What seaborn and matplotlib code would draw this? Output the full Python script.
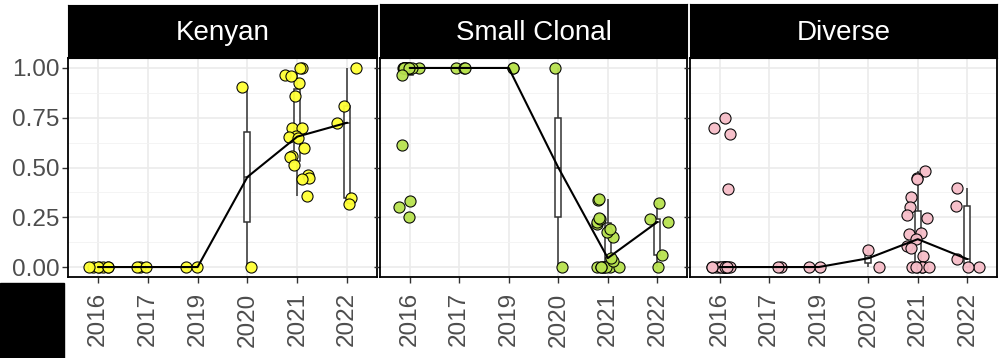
import matplotlib
matplotlib.use("Agg")
import matplotlib.pyplot as plt
import numpy as np
import pandas as pd
import seaborn as sns
from matplotlib.patches import Rectangle
from matplotlib.ticker import MultipleLocator

years = ["2016", "2017", "2019", "2020", "2021", "2022"]
groups = ["Kenyan", "Small Clonal", "Diverse"]
colors = ["#FFFF33", "#B8E24F", "#F6BDC8"]
ytick_labels = ["0.00", "0.25", "0.50", "0.75", "1.00"]

# values, one list per panel and year
kenyan_2016 = [0, 0, 0, 0, 0, 0, 0]
kenyan_2017 = [0, 0, 0]
kenyan_2019 = [0, 0]
kenyan_2020 = [0, 0.905]
kenyan_2021 = [1.0, 1.0, 0.965, 0.925, 0.96, 0.86, 0.70, 0.70, 0.66, 0.655,
               0.65, 0.60, 0.56, 0.555, 0.515, 0.46, 0.445, 0.44, 0.355]
kenyan_2022 = [1.0, 0.81, 0.725, 0.345, 0.315]

clonal_2016 = [1, 1, 1, 1, 1, 1, 1, 1, 1, 1, 1, 1, 0.965, 0.615, 0.33, 0.30, 0.25]
clonal_2017 = [1, 1, 1]
clonal_2019 = [1, 1]
clonal_2020 = [1, 0]
clonal_2021 = [0, 0, 0, 0, 0, 0, 0, 0, 0.03, 0.045, 0.149, 0.178, 0.19,
               0.215, 0.226, 0.24, 0.248, 0.335, 0.344]
clonal_2022 = [0.32, 0.24, 0.226, 0.058, 0]

diverse_2016 = [0.75, 0.70, 0.67, 0.39, 0, 0, 0, 0, 0, 0, 0, 0, 0, 0, 0, 0, 0]
diverse_2017 = [0, 0]
diverse_2019 = [0, 0]
diverse_2020 = [0.088, 0]
diverse_2021 = [0.48, 0.445, 0.44, 0.35, 0.30, 0.26, 0.245, 0.17, 0.165, 0.14,
                0.105, 0.095, 0.055, 0, 0, 0, 0, 0, 0]
diverse_2022 = [0.395, 0.307, 0.04, 0, 0]

panel_lists = {
    "Kenyan": [kenyan_2016, kenyan_2017, kenyan_2019, kenyan_2020, kenyan_2021, kenyan_2022],
    "Small Clonal": [clonal_2016, clonal_2017, clonal_2019, clonal_2020, clonal_2021, clonal_2022],
    "Diverse": [diverse_2016, diverse_2017, diverse_2019, diverse_2020, diverse_2021, diverse_2022],
}
rows = []
for g in groups:
    for yr, vals in zip(years, panel_lists[g]):
        for v in vals:
            rows.append({"group": g, "year": yr, "value": v})
df = pd.DataFrame(rows)

sns.set_style("white")
plt.rcParams["font.family"] = ["Liberation Sans", "DejaVu Sans"]
np.random.seed(3)

W, H = 1000, 358
fig = plt.figure(figsize=(W / 100, H / 100), dpi=100)

# pixel boxes: (left, right) for each panel, shared top/bottom
panel_x = [(68, 377), (380, 687), (690, 997)]
strip_top = [5, 4, 4]
p_top, p_bot = 58, 277

for i, g in enumerate(groups):
    x0, x1 = panel_x[i]
    ax = fig.add_axes([x0 / W, (H - p_bot) / H, (x1 - x0) / W, (p_bot - p_top) / H])
    sub = df[df["group"] == g]

    sns.boxplot(data=sub, x="year", y="value", order=years, width=0.12,
                showfliers=False, showcaps=False, color="white",
                linecolor="#333333", linewidth=1.1, ax=ax, zorder=2)
    sns.stripplot(data=sub, x="year", y="value", order=years, jitter=0.25,
                  color=colors[i], edgecolor="black", linewidth=0.8, size=8,
                  alpha=0.95, ax=ax, zorder=3)
    sns.pointplot(data=sub, x="year", y="value", order=years, estimator="median",
                  errorbar=None, color="black", marker="", linewidth=1.5,
                  ax=ax, zorder=4)

    ax.set_xlim(-0.6, 5.6)
    ax.set_ylim(-0.05, 1.05)
    ax.set_xlabel("")
    ax.set_ylabel("")
    ax.set_yticks([0, 0.25, 0.5, 0.75, 1.0])
    ax.yaxis.set_minor_locator(MultipleLocator(0.125))
    ax.set_axisbelow(True)
    ax.grid(which="major", color="#EBEBEB", linewidth=1.2)
    ax.grid(which="minor", axis="y", color="#F2F2F2", linewidth=0.6)
    for s in ax.spines.values():
        s.set_color("black")
        s.set_linewidth(1.3)
    ax.tick_params(axis="both", which="major", length=4, width=1.0,
                   color="#333333", labelcolor="#4D4D4D", labelsize=17.5, pad=2,
                   left=True, bottom=True)
    ax.tick_params(axis="x", pad=7)
    ax.tick_params(axis="y", which="minor", length=0)
    ax.set_xticks(range(len(years)))
    ax.set_xticklabels(years, rotation=90)
    if i == 0:
        ax.set_yticklabels(ytick_labels)
    else:
        ax.set_yticklabels([])

    # facet strip
    st = fig.add_axes([x0 / W, (H - p_top) / H, (x1 - x0) / W, (p_top - strip_top[i]) / H])
    st.set_facecolor("black")
    st.set_xticks([])
    st.set_yticks([])
    for s in st.spines.values():
        s.set_color("black")
    st.text(0.5, 0.47, g, color="white", fontsize=20, ha="center", va="center",
            transform=st.transAxes)

fig.patches.append(Rectangle((0, 0), 64 / W, 75 / H, transform=fig.transFigure,
                             color="black", zorder=0))

plt.savefig("out.png", dpi=100)
